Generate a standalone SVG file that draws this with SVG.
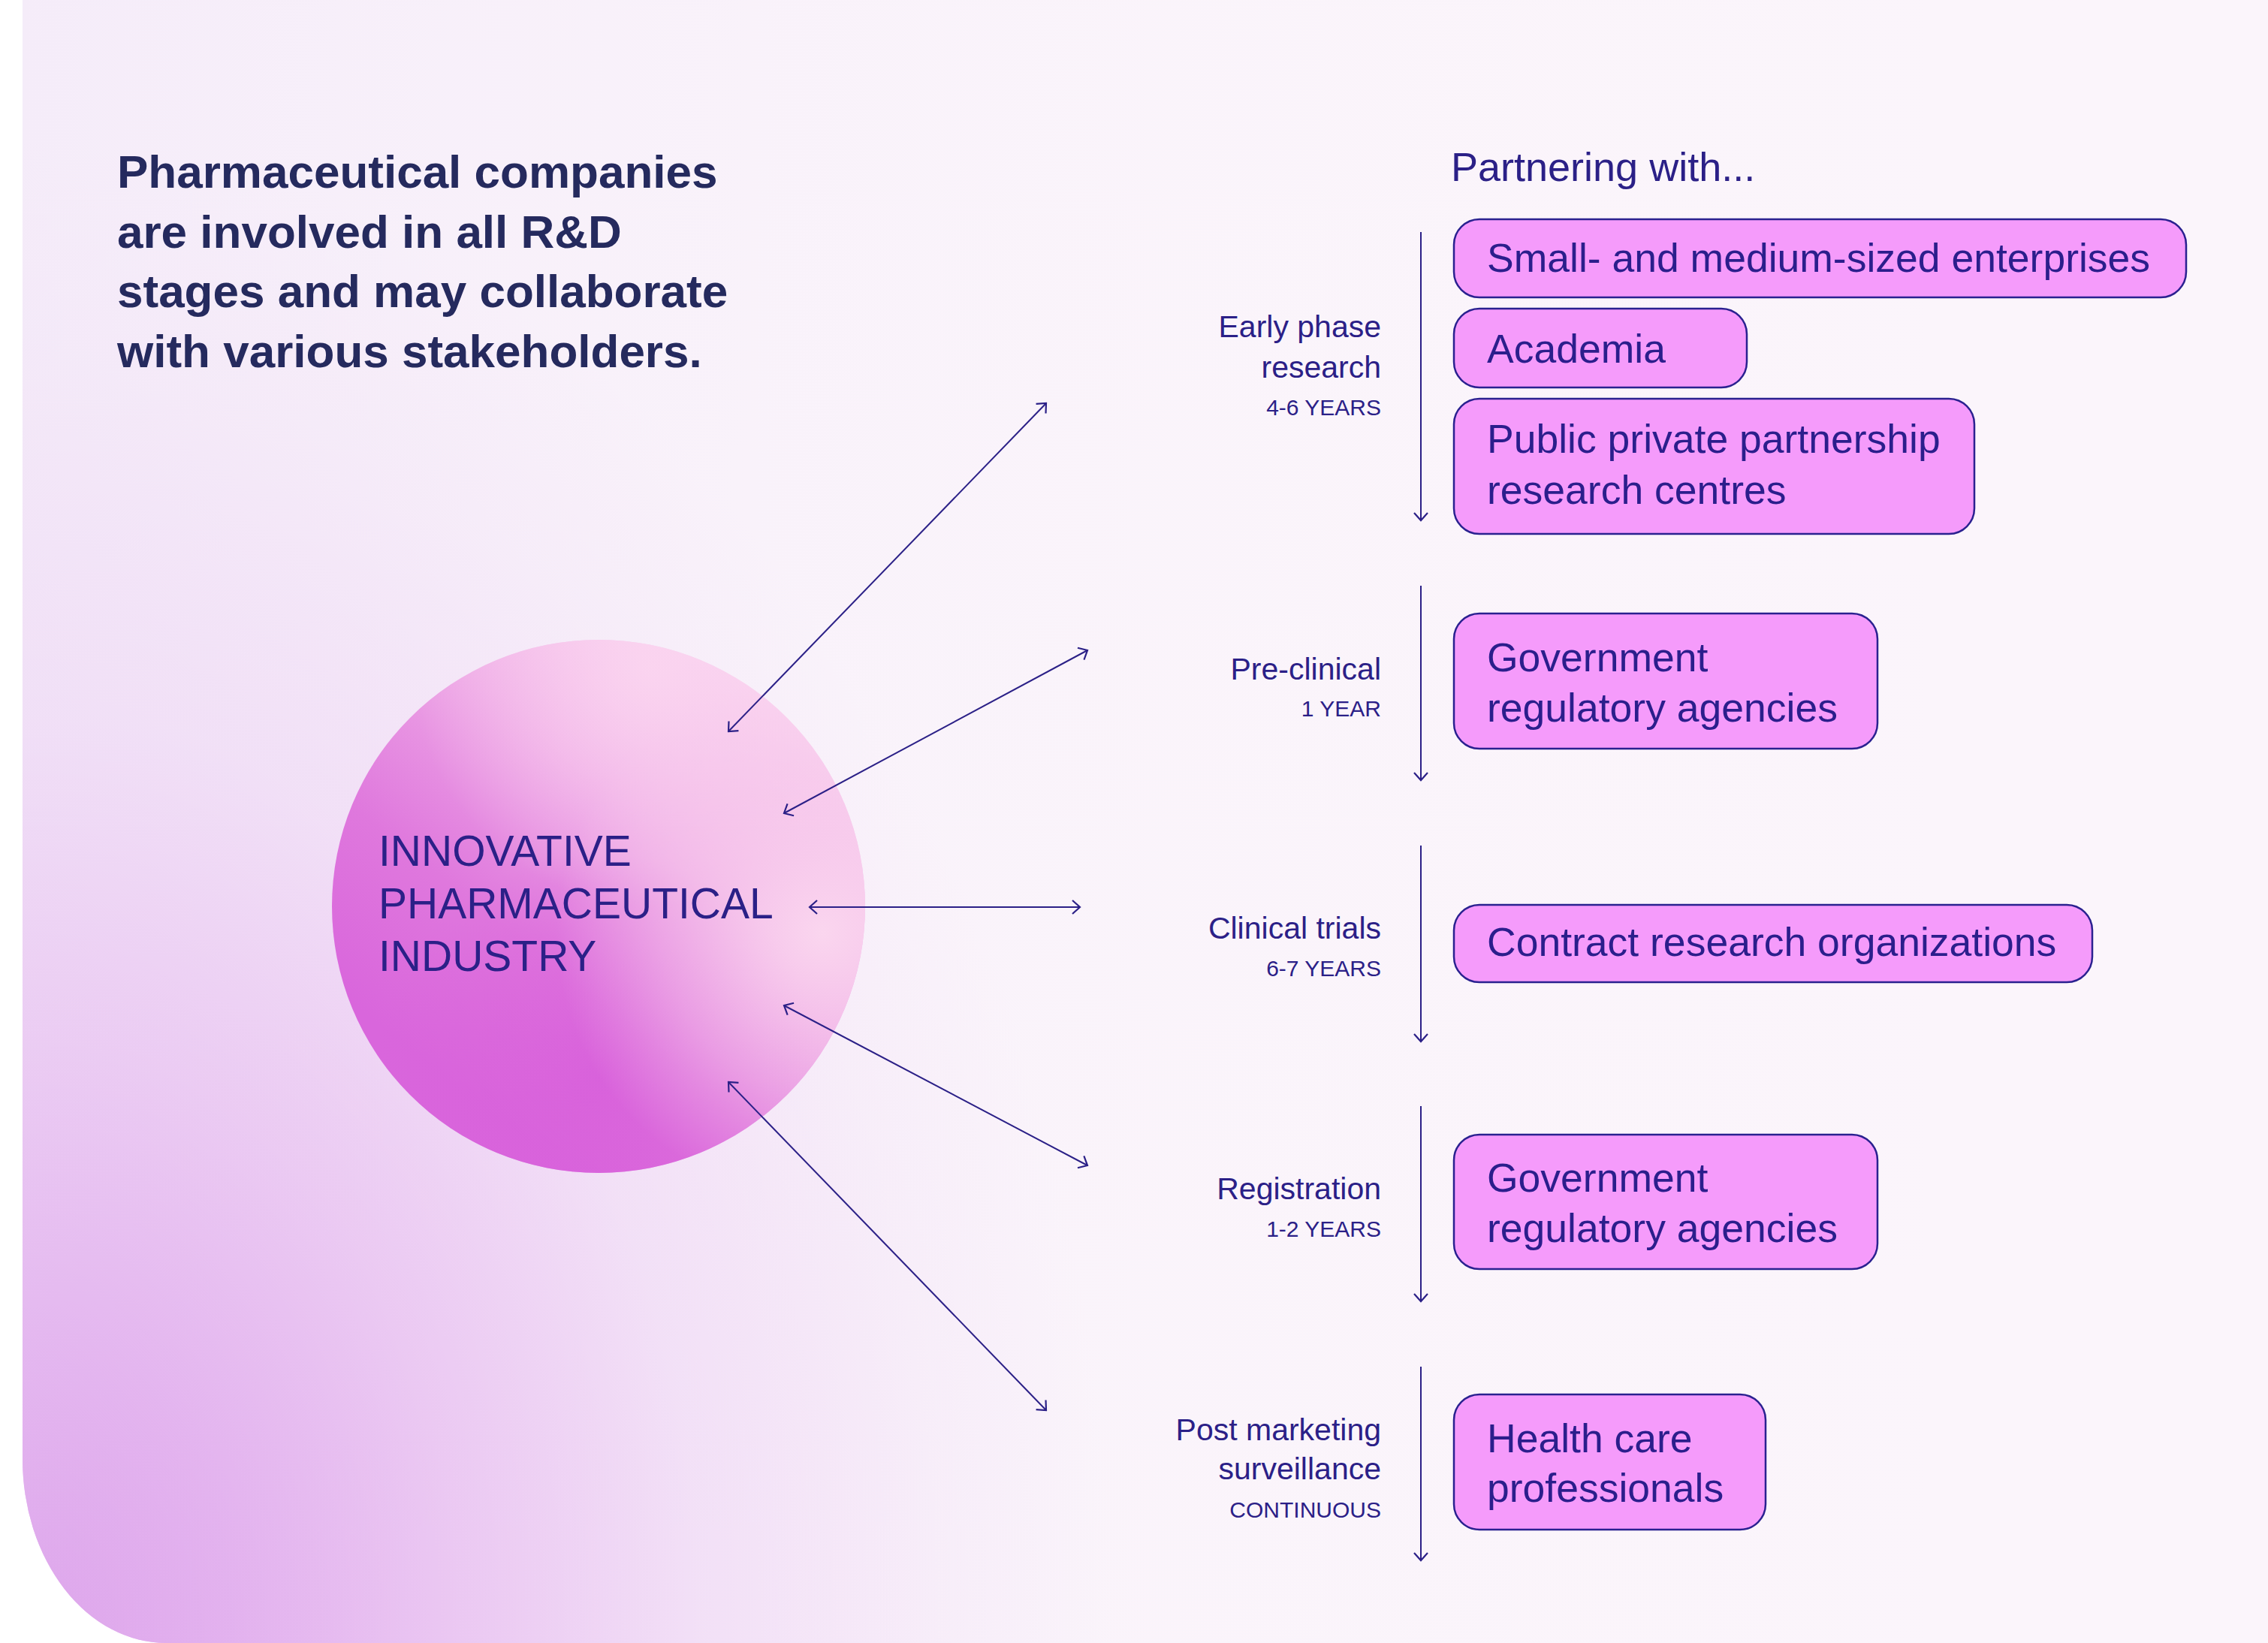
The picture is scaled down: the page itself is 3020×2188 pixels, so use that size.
<svg xmlns="http://www.w3.org/2000/svg" width="3020" height="2188" viewBox="0 0 3020 2188">
  <style>
    .title { font-family: "Liberation Sans", Arial, sans-serif; font-weight: 700; font-size: 62px; fill: #252a5e; }
    .head { font-family: "Liberation Sans", Arial, sans-serif; font-size: 54px; fill: #2b2087; }
    .stage { font-family: "Liberation Sans", Arial, sans-serif; font-size: 41px; fill: #2b2087; text-anchor: end; }
    .dur { font-family: "Liberation Sans", Arial, sans-serif; font-size: 30px; fill: #2b2087; text-anchor: end; }
    .box { fill: #f59bfb; stroke: #2a2190; stroke-width: 2.5; }
    .boxtxt { font-family: "Liberation Sans", Arial, sans-serif; font-size: 53.5px; fill: #2b1e8c; }
    .hub { font-family: "Liberation Sans", Arial, sans-serif; font-size: 57px; fill: #2b2087; }
    .conn { stroke: #2b2087; stroke-width: 2; fill: none; }
  </style>
  <defs>
    <radialGradient id="bgGrad" cx="30" cy="2188" r="1000" gradientUnits="userSpaceOnUse" gradientTransform="translate(30 2188) scale(1.45 2.0) translate(-30 -2188)">
      <stop offset="0" stop-color="#cc68e0"/>
      <stop offset="0.2" stop-color="#d98ce8"/>
      <stop offset="0.4" stop-color="#e7b6ef"/>
      <stop offset="0.62" stop-color="#f2dcf6"/>
      <stop offset="0.85" stop-color="#f8eef9"/>
      <stop offset="1" stop-color="#fbf5fb"/>
    </radialGradient>
    <linearGradient id="bgTop" x1="0" y1="0" x2="1" y2="0">
      <stop offset="0" stop-color="#efe3f7" stop-opacity="0.5"/>
      <stop offset="0.5" stop-color="#f6eef9" stop-opacity="0.15"/>
      <stop offset="1" stop-color="#fcf6fc" stop-opacity="0"/>
    </linearGradient>
    <linearGradient id="hubBase" x1="0.85" y1="0.1" x2="0.25" y2="0.85">
      <stop offset="0" stop-color="#f9d2ef"/>
      <stop offset="0.35" stop-color="#eea8e6"/>
      <stop offset="0.7" stop-color="#df78dd"/>
      <stop offset="1" stop-color="#d966dc"/>
    </linearGradient>
    <radialGradient id="hubGlow" cx="0.92" cy="0.55" r="0.5">
      <stop offset="0" stop-color="#fbd8ef" stop-opacity="0.95"/>
      <stop offset="0.6" stop-color="#f8cdec" stop-opacity="0.45"/>
      <stop offset="1" stop-color="#f8cdec" stop-opacity="0"/>
    </radialGradient>
    <radialGradient id="hubTop" cx="0.6" cy="0.05" r="0.45">
      <stop offset="0" stop-color="#fbd6f0" stop-opacity="0.9"/>
      <stop offset="1" stop-color="#fbd6f0" stop-opacity="0"/>
    </radialGradient>
    <radialGradient id="hubDeep" cx="0.5" cy="0.82" r="0.42">
      <stop offset="0" stop-color="#d85fdb" stop-opacity="0.85"/>
      <stop offset="1" stop-color="#d85fdb" stop-opacity="0"/>
    </radialGradient>
    <marker id="arr" viewBox="-12 -11 14 22" refX="0" refY="0" markerWidth="14" markerHeight="22" markerUnits="userSpaceOnUse" orient="auto-start-reverse">
      <path d="M-10,-9 L0,0 L-10,9" fill="none" stroke="#2b2087" stroke-width="2.2"/>
    </marker>
  </defs>

  <rect x="0" y="0" width="3020" height="2188" fill="#ffffff"/>
  <path d="M30,0 H3020 V2188 H221 A191,245 0 0 1 30,1943 Z" fill="url(#bgGrad)"/>
  <path d="M30,0 H3020 V2188 H221 A191,245 0 0 1 30,1943 Z" fill="url(#bgTop)"/>

  <g id="title">
    <text class="title" x="156" y="250">Pharmaceutical companies</text>
    <text class="title" x="156" y="330">are involved in all R&amp;D</text>
    <text class="title" x="156" y="409">stages and may collaborate</text>
    <text class="title" x="156" y="489">with various stakeholders.</text>
  </g>

  <g id="hub">
    <circle cx="797" cy="1207" r="355" fill="url(#hubBase)"/>
    <circle cx="797" cy="1207" r="355" fill="url(#hubDeep)"/>
    <circle cx="797" cy="1207" r="355" fill="url(#hubTop)"/>
    <circle cx="797" cy="1207" r="355" fill="url(#hubGlow)"/>
    <text class="hub" x="504" y="1153">INNOVATIVE</text>
    <text class="hub" x="504" y="1223">PHARMACEUTICAL</text>
    <text class="hub" x="504" y="1293">INDUSTRY</text>
  </g>

  <g id="header">
    <text class="head" x="1932" y="241">Partnering with...</text>
  </g>

  <g id="stage-early">
    <text class="stage" x="1839" y="449">Early phase</text>
    <text class="stage" x="1839" y="503">research</text>
    <text class="dur" x="1839" y="553">4-6 YEARS</text>
  </g>
  <g id="stage-preclinical">
    <text class="stage" x="1839" y="905">Pre-clinical</text>
    <text class="dur" x="1839" y="954">1 YEAR</text>
  </g>
  <g id="stage-clinical">
    <text class="stage" x="1839" y="1250">Clinical trials</text>
    <text class="dur" x="1839" y="1300">6-7 YEARS</text>
  </g>
  <g id="stage-registration">
    <text class="stage" x="1839" y="1597">Registration</text>
    <text class="dur" x="1839" y="1647">1-2 YEARS</text>
  </g>
  <g id="stage-post">
    <text class="stage" x="1839" y="1918">Post marketing</text>
    <text class="stage" x="1839" y="1970">surveillance</text>
    <text class="dur" x="1839" y="2021">CONTINUOUS</text>
  </g>

  <g id="box-sme">
    <rect class="box" x="1936" y="292" width="975" height="104" rx="34"/>
    <text class="boxtxt" x="1980" y="362">Small- and medium-sized enterprises</text>
  </g>
  <g id="box-academia">
    <rect class="box" x="1936" y="411" width="390" height="105" rx="34"/>
    <text class="boxtxt" x="1980" y="483">Academia</text>
  </g>
  <g id="box-ppp">
    <rect class="box" x="1936" y="531" width="693" height="180" rx="34"/>
    <text class="boxtxt" x="1980" y="603">Public private partnership</text>
    <text class="boxtxt" x="1980" y="671">research centres</text>
  </g>
  <g id="box-gov1">
    <rect class="box" x="1936" y="817" width="564" height="180" rx="34"/>
    <text class="boxtxt" x="1980" y="894">Government</text>
    <text class="boxtxt" x="1980" y="961">regulatory agencies</text>
  </g>
  <g id="box-cro">
    <rect class="box" x="1936" y="1205" width="850" height="103" rx="34"/>
    <text class="boxtxt" x="1980" y="1273">Contract research organizations</text>
  </g>
  <g id="box-gov2">
    <rect class="box" x="1936" y="1511" width="564" height="179" rx="34"/>
    <text class="boxtxt" x="1980" y="1587">Government</text>
    <text class="boxtxt" x="1980" y="1654">regulatory agencies</text>
  </g>
  <g id="box-hcp">
    <rect class="box" x="1936" y="1857" width="415" height="180" rx="34"/>
    <text class="boxtxt" x="1980" y="1934">Health care</text>
    <text class="boxtxt" x="1980" y="2000">professionals</text>
  </g>

  <g id="connectors">
    <line class="conn" x1="970" y1="974" x2="1393" y2="537" marker-start="url(#arr)" marker-end="url(#arr)"/>
    <line class="conn" x1="1044" y1="1083" x2="1448" y2="866" marker-start="url(#arr)" marker-end="url(#arr)"/>
    <line class="conn" x1="1078" y1="1208" x2="1438" y2="1208" marker-start="url(#arr)" marker-end="url(#arr)"/>
    <line class="conn" x1="1044" y1="1339" x2="1448" y2="1552" marker-start="url(#arr)" marker-end="url(#arr)"/>
    <line class="conn" x1="970" y1="1441" x2="1393" y2="1878" marker-start="url(#arr)" marker-end="url(#arr)"/>
    <line class="conn" x1="1892" y1="309" x2="1892" y2="693" marker-end="url(#arr)"/>
    <line class="conn" x1="1892" y1="780" x2="1892" y2="1039" marker-end="url(#arr)"/>
    <line class="conn" x1="1892" y1="1126" x2="1892" y2="1387" marker-end="url(#arr)"/>
    <line class="conn" x1="1892" y1="1473" x2="1892" y2="1733" marker-end="url(#arr)"/>
    <line class="conn" x1="1892" y1="1820" x2="1892" y2="2078" marker-end="url(#arr)"/>
  </g>
</svg>
